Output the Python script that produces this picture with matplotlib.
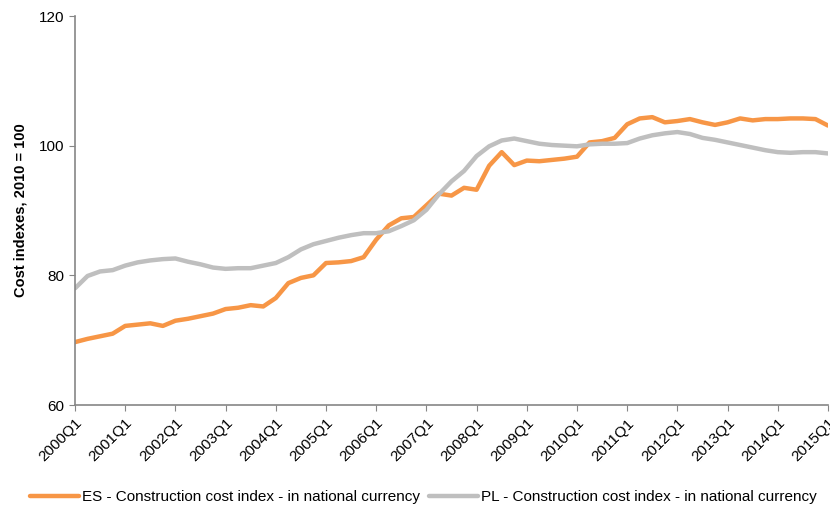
import matplotlib.pyplot as plt
import numpy as np

plt.rcParams['font.family'] = ['Liberation Sans', 'DejaVu Sans']

# ─── Data ──────────────────────────────────────────────────────────────────────
years    = list(range(2000, 2016))
quarters = [f"{y}Q{q}" for y in range(2000, 2015) for q in range(1, 5)] + ["2015Q1"]
tick_labels = [f"{y}Q1" for y in years]

es_index = [69.7, 70.2, 70.6, 71.0, 72.2, 72.4, 72.6, 72.2,
            73.0, 73.3, 73.7, 74.1, 74.8, 75.0, 75.4, 75.2,
            76.5, 78.8, 79.6, 80.0, 81.9, 82.0, 82.2, 82.8,
            85.5, 87.7, 88.8, 89.0, 90.8, 92.6, 92.3, 93.5,
            93.2, 96.9, 99.0, 97.0, 97.7, 97.6, 97.8, 98.0,
            98.3, 100.5, 100.7, 101.2, 103.3, 104.2, 104.4, 103.6,
            103.8, 104.1, 103.6, 103.2, 103.6, 104.2, 103.9, 104.1,
            104.1, 104.2, 104.2, 104.1, 103.1]

pl_index = [78.0, 79.9, 80.6, 80.8, 81.5, 82.0, 82.3, 82.5,
            82.6, 82.1, 81.7, 81.2, 81.0, 81.1, 81.1, 81.5,
            81.9, 82.8, 84.0, 84.8, 85.3, 85.8, 86.2, 86.5,
            86.5, 86.8, 87.6, 88.5, 90.1, 92.5, 94.5, 96.1,
            98.4, 99.9, 100.8, 101.1, 100.7, 100.3, 100.1, 100.0,
            99.9, 100.2, 100.3, 100.3, 100.4, 101.1, 101.6, 101.9,
            102.1, 101.8, 101.2, 100.9, 100.5, 100.1, 99.7, 99.3,
            99.0, 98.9, 99.0, 99.0, 98.8]

# ─── Figure ────────────────────────────────────────────────────────────────────
fig = plt.figure(figsize=(8.3, 5.11), dpi=100)
ax = fig.add_axes([75/830, 106/511, 753/830, 389/511])

x = np.arange(len(quarters))
ax.plot(x, es_index, color="#F79646", lw=3.2, solid_capstyle="round",
        solid_joinstyle="round",
        label="ES - Construction cost index - in national currency")
ax.plot(x, pl_index, color="#BFBFBF", lw=3.2, solid_capstyle="round",
        solid_joinstyle="round",
        label="PL - Construction cost index - in national currency")

ax.set_xlim(0, len(quarters) - 1)
ax.set_ylim(60, 120)
ax.set_yticks([60, 80, 100, 120])
ax.set_xticks([quarters.index(t) for t in tick_labels])
ax.set_xticklabels(tick_labels, rotation=45, ha="right", rotation_mode="anchor",
                   fontsize=11)
ax.tick_params(axis='y', labelsize=11, length=4, color="#868686")
ax.tick_params(axis='x', length=4, color="#868686", pad=4)
ax.set_ylabel("Cost indexes, 2010 = 100", fontsize=10.5, weight="bold", labelpad=8)

ax.spines[['right', 'top']].set_visible(False)
for s in ('left', 'bottom'):
    ax.spines[s].set_color("#868686")
    ax.spines[s].set_linewidth(1.2)

fig.legend(loc="center", bbox_to_anchor=(0.51, 14/511), ncol=2, frameon=False,
           fontsize=11, handlelength=3.2, handletextpad=0.2, columnspacing=0.6)

plt.savefig("out.png", dpi=100)
